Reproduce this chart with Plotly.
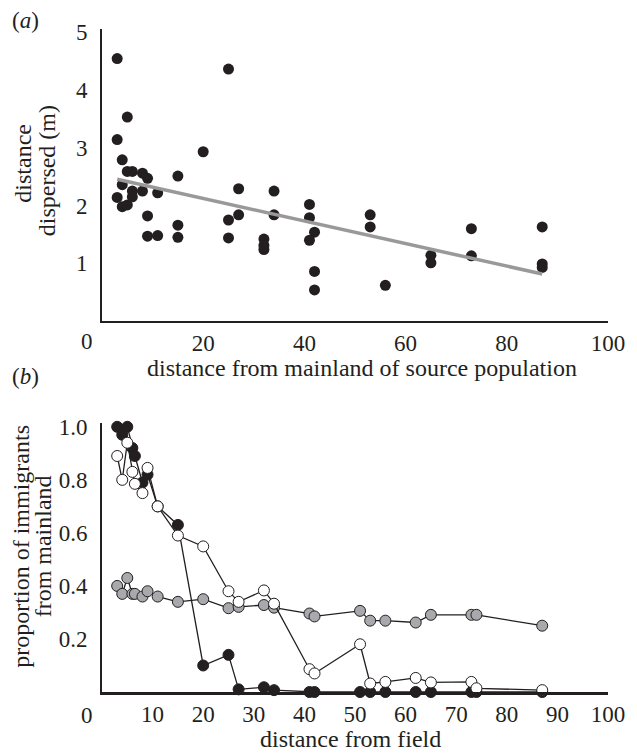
import numpy as np
import plotly.graph_objects as go

# ---------------- Panel (a) data ----------------
a_x = [3, 25, 5, 3, 20, 4, 5, 6, 8, 9, 15, 4, 6, 8, 27, 34, 11, 3, 6, 4, 5, 9, 27, 34, 25, 15,
       9, 11, 15, 25, 32, 32, 32, 41, 41, 42, 41, 42, 42, 53, 53, 56, 65, 65, 73, 73, 87, 87, 87]
a_y = [4.54, 4.36, 3.53, 3.14, 2.93, 2.79, 2.59, 2.59, 2.56, 2.47, 2.51, 2.36, 2.25, 2.25, 2.29, 2.25,
       2.22, 2.14, 2.15, 1.98, 2.01, 1.82, 1.84, 1.84, 1.75, 1.66, 1.47, 1.48, 1.45, 1.44, 1.42, 1.31,
       1.24, 2.02, 1.79, 1.54, 1.40, 0.86, 0.54, 1.84, 1.63, 0.62, 1.14, 1.01, 1.60, 1.13, 1.63, 0.99, 0.93]

# ---------------- Panel (b) data ----------------
b_x = [3, 4, 5, 6, 6.5, 8, 9, 11, 15, 20, 25, 27, 32, 34, 41, 42, 51, 53, 56, 62, 65, 73, 74, 87]
b_black = [1.0, 0.97, 1.0, 0.92, 0.89, 0.79, 0.82, 0.70, 0.63, 0.10, 0.14, 0.01, 0.018, 0.007,
           0.0, 0.0, 0.0, 0.0, 0.0, 0.0, 0.0, 0.0, 0.0, 0.0]
b_grey = [0.40, 0.37, 0.43, 0.37, 0.37, 0.36, 0.38, 0.36, 0.34, 0.35, 0.316, 0.321, 0.328, 0.318,
          0.296, 0.285, 0.306, 0.269, 0.269, 0.262, 0.291, 0.291, 0.291, 0.25]
b_white = [0.89, 0.80, 0.94, 0.83, 0.785, 0.75, 0.845, 0.70, 0.59, 0.549, 0.38, 0.34, 0.383, 0.333,
           0.086, 0.07, 0.18, 0.032, 0.038, 0.053, 0.036, 0.038, 0.014, 0.007]

a_xticks = [20, 40, 60, 80, 100]
a_yticks = [1, 2, 3, 4, 5]
b_xticks = [10, 20, 30, 40, 50, 60, 70, 80, 90, 100]
b_yticks = [0.2, 0.4, 0.6, 0.8, 1.0]

FONT = "Liberation Serif"
INK = "#231f20"
FS = 23
FT = 24

# the page body has an 8px margin: draw the figure 8px smaller and shift everything
OFF = 8
FIG_W, FIG_H = 637 - OFF, 754 - OFF
PL, PR, PT, PB = 102, 615, 22, 692          # plot area in reference pixels
W, H = PR - PL, PB - PT

fig = go.Figure()

fig.add_trace(go.Scatter(x=a_x, y=a_y, mode="markers", xaxis="x", yaxis="y",
                         marker=dict(size=11, color=INK), showlegend=False))
coef = np.polyfit(a_x, a_y, 1)
fx = np.array([min(a_x), max(a_x)])
fig.add_trace(go.Scatter(x=fx, y=np.polyval(coef, fx), mode="lines", xaxis="x", yaxis="y",
                         line=dict(color="#999999", width=3.5), showlegend=False))

for vals, fill in [(b_black, INK), (b_grey, "#a7a9ac"), (b_white, "#ffffff")]:
    fig.add_trace(go.Scatter(x=b_x, y=vals, mode="lines+markers", xaxis="x2", yaxis="y2",
                             line=dict(color=INK, width=1.3),
                             marker=dict(size=11, color=fill, line=dict(color=INK, width=1)),
                             showlegend=False, cliponaxis=False))

axis_common = dict(showgrid=False, zeroline=False, showline=True, linecolor=INK, linewidth=2,
                   ticks="", tickfont=dict(family=FONT, size=FS, color=INK))


def py(p):
    return (PB - p) / H


def px(p):
    return (p - PL) / W


fig.update_layout(
    width=FIG_W, height=FIG_H,
    margin=dict(l=PL - OFF, r=FIG_W - (PR - OFF), t=PT - OFF, b=FIG_H - (PB - OFF)),
    paper_bgcolor="white", plot_bgcolor="white",
    font=dict(family=FONT, size=FS, color=INK),
    xaxis=dict(axis_common, range=[0, 100], tickvals=a_xticks, anchor="y", domain=[0, 1]),
    yaxis=dict(axis_common, range=[0, 5.052], tickvals=a_yticks, anchor="x",
               domain=[py(317.3), 1], ticklabelstandoff=8),
    xaxis2=dict(axis_common, range=[0, 100], tickvals=b_xticks, anchor="y2", domain=[0, 1],
                linewidth=2.5),
    yaxis2=dict(axis_common, range=[0, 1.015], tickvals=b_yticks, tickformat=".1f", anchor="x2",
                domain=[0, py(420)], ticklabelstandoff=8),
)

ann = [
    dict(text="(<i>a</i>)", x=px(9), y=py(13), xanchor="left", yanchor="middle", size=FS, a=0),
    dict(text="(<i>b</i>)", x=px(9), y=py(373), xanchor="left", yanchor="middle", size=FS, a=0),
    dict(text="0", x=px(87), y=py(338), xanchor="center", yanchor="middle", size=FS, a=0),
    dict(text="0", x=px(87), y=py(716), xanchor="center", yanchor="middle", size=FS, a=0),
    dict(text="distance", x=px(21), y=py(158), xanchor="center", yanchor="middle", size=FT, a=-90),
    dict(text="dispersed (m)", x=px(46), y=py(165), xanchor="center", yanchor="middle", size=FT,
         a=-90),
    dict(text="proportion of immigrants", x=px(19), y=py(545), xanchor="center",
         yanchor="middle", size=FT, a=-90),
    dict(text="from mainland", x=px(42), y=py(545), xanchor="center", yanchor="middle",
         size=FT, a=-90),
    dict(text="distance from mainland of source population", x=px(366), y=py(365),
         xanchor="center", yanchor="middle", size=FT, a=0),
    dict(text="distance from field", x=px(354), y=py(740), xanchor="center", yanchor="middle",
         size=FT, a=0),
]
for d in ann:
    s = d.pop("size")
    ang = d.pop("a")
    d.update(xref="paper", yref="paper", showarrow=False, textangle=ang,
             font=dict(family=FONT, size=s, color=INK))
fig.update_layout(annotations=ann)

fig.write_html("out.html")
